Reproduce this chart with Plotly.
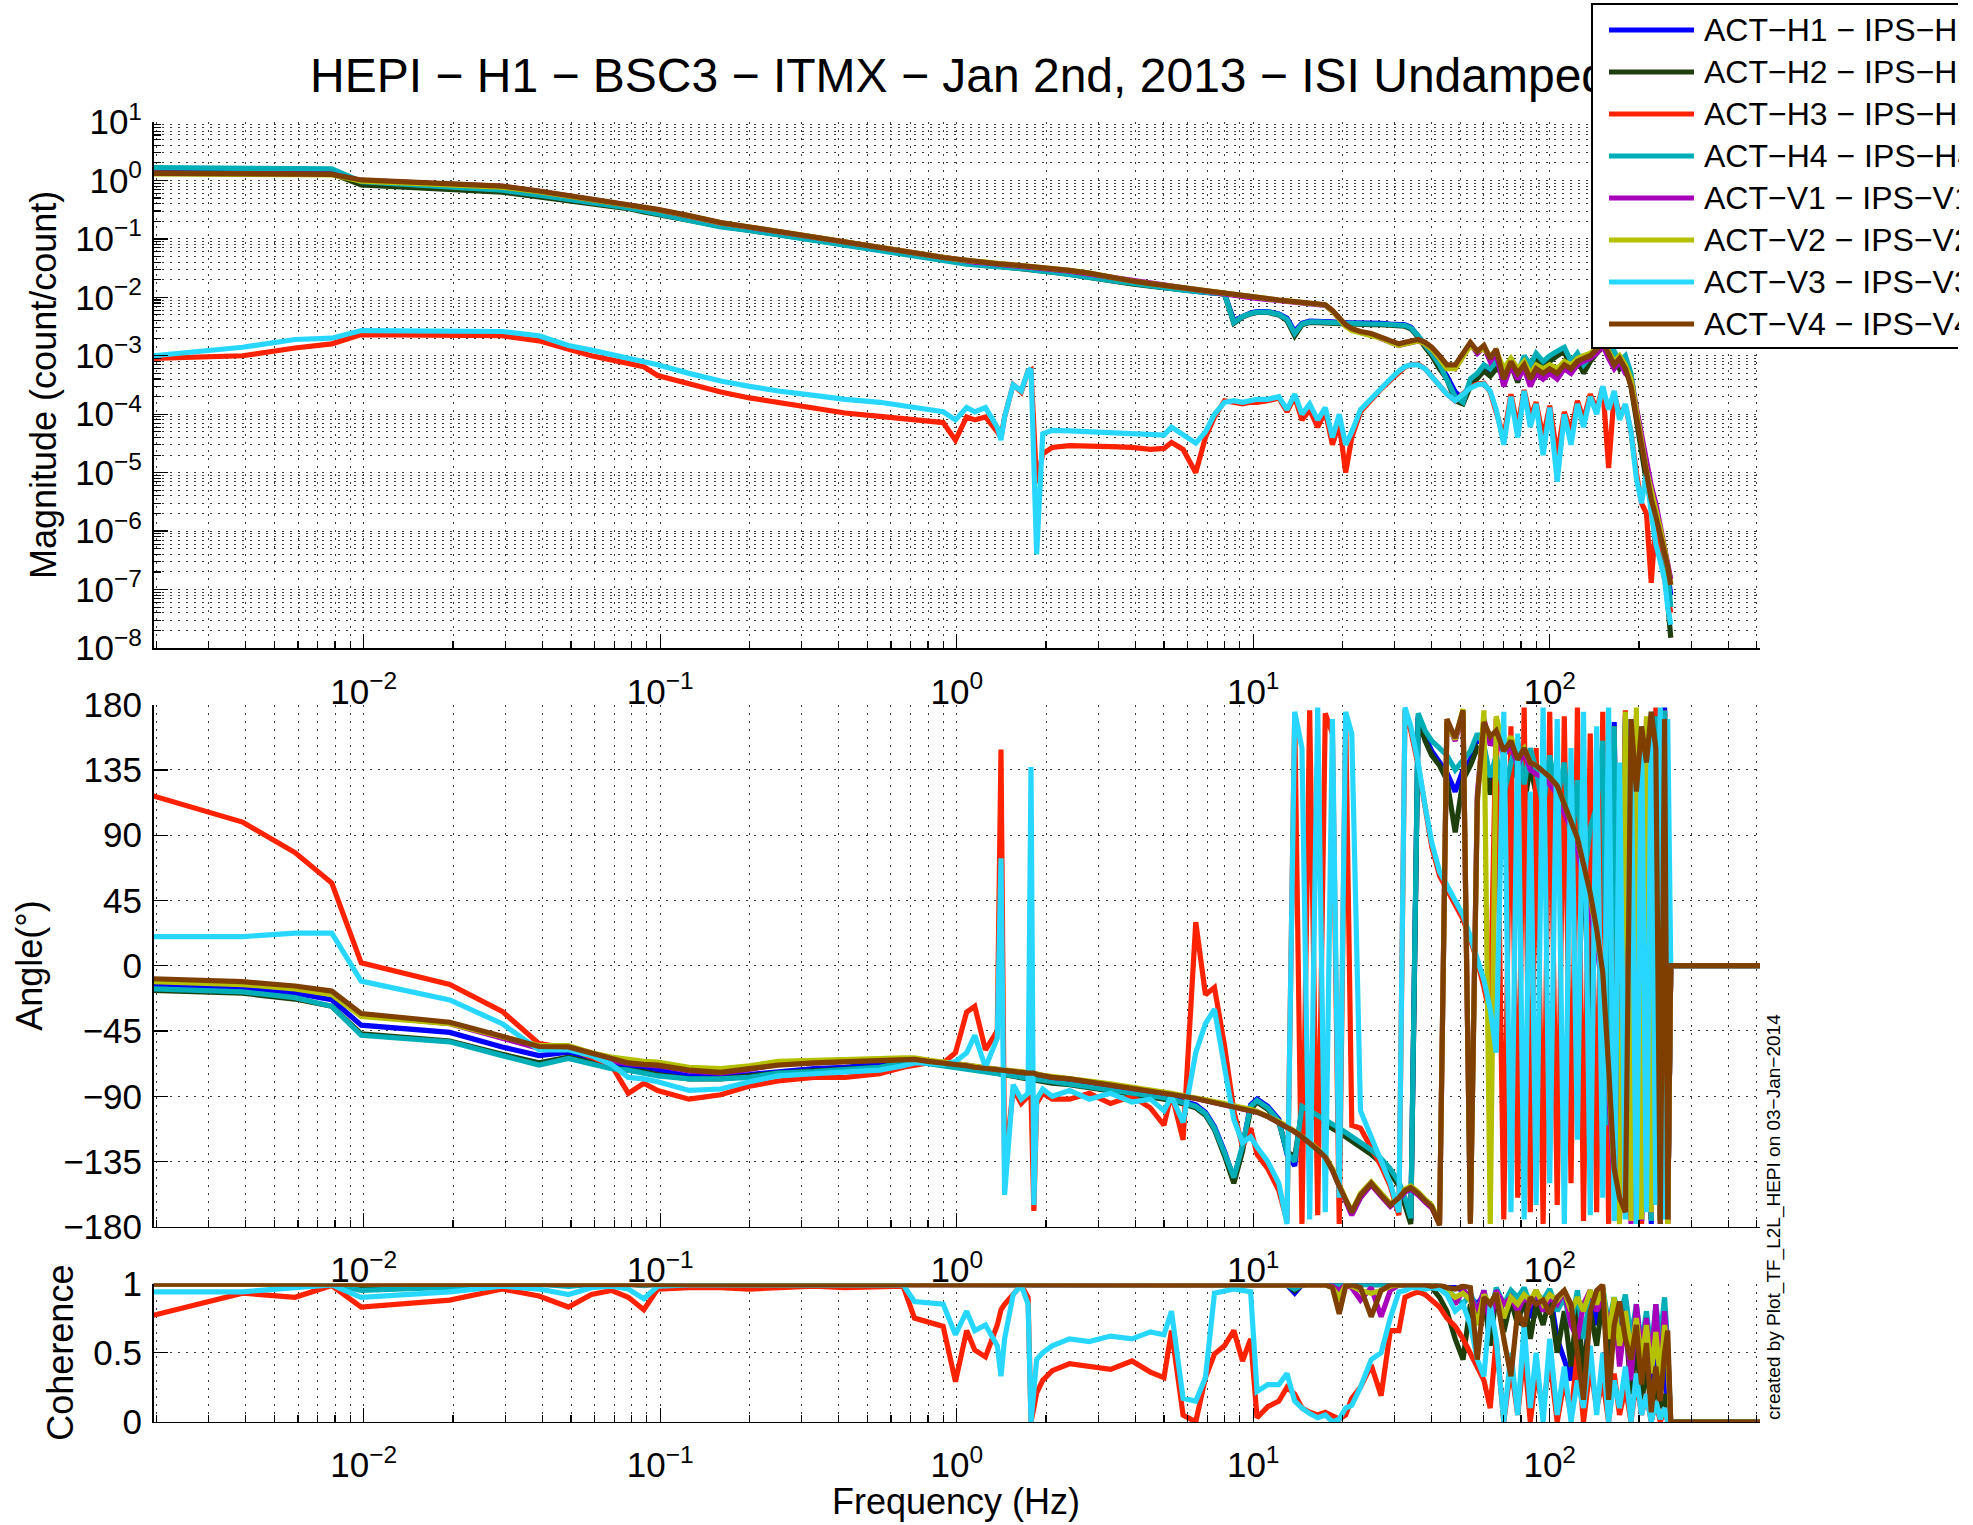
import math
import plotly.graph_objects as go

# ---------------- data ----------------
FREQ = [
    0.00195, 0.0039, 0.00586, 0.0078, 0.0098, 0.0195, 0.0293, 0.039, 0.049, 0.0586,
    0.0684, 0.078, 0.088, 0.098, 0.125, 0.16, 0.2, 0.25, 0.33, 0.42,
    0.55, 0.66, 0.72, 0.8, 0.9, 0.99, 1.08, 1.15, 1.25, 1.37,
    1.41, 1.45, 1.55, 1.65, 1.74, 1.78, 1.82, 1.86, 1.95, 2.1,
    2.4, 2.8, 3.3, 3.9, 4.5, 5.0, 5.3, 5.8, 6.4, 6.9,
    7.4, 8.0, 8.6, 9.2, 9.8, 10.3, 11.2, 12.2, 13.0, 13.8,
    14.6, 15.5, 16.5, 17.5, 18.5, 19.5, 20.5, 21.5, 23, 25,
    27, 29, 31, 32.5, 34, 36, 38, 40, 42.5, 45,
    48, 51, 54, 57, 60, 63, 66, 70, 74, 78,
    82, 86, 90, 95, 100, 106, 112, 118, 124, 130,
    137, 144, 151, 158, 165, 172, 180, 188, 196, 204,
    212, 220, 228, 236, 244, 250, 256, 300, 400, 512,
]

SERIES_NAMES = [
    "ACT\u2212H1 \u2212 IPS\u2212H1", "ACT\u2212H2 \u2212 IPS\u2212H2",
    "ACT\u2212H3 \u2212 IPS\u2212H3", "ACT\u2212H4 \u2212 IPS\u2212H4",
    "ACT\u2212V1 \u2212 IPS\u2212V1", "ACT\u2212V2 \u2212 IPS\u2212V2",
    "ACT\u2212V3 \u2212 IPS\u2212V3", "ACT\u2212V4 \u2212 IPS\u2212V4",
]
SERIES_COLORS = ["#0000FF", "#1E3F0C", "#FF2200", "#00AEB8",
                 "#A800BA", "#B4C000", "#28D7FF", "#7F3F00"]

# ---- magnitude (count/count) ----
MAG_H1 = [
    1.38, 1.37, 1.35, 1.33, 0.92, 0.80, 0.70, 0.57, 0.49, 0.43,
    0.39, 0.35, 0.31, 0.28, 0.22, 0.17, 0.145, 0.12, 0.095, 0.080,
    0.065, 0.057, 0.052, 0.048, 0.044, 0.041, 0.039, 0.037, 0.036, 0.035,
    0.034, 0.034, 0.033, 0.032, 0.031, 0.031, 0.030, 0.030, 0.029, 0.028,
    0.026, 0.023, 0.020, 0.0175, 0.0158, 0.0148, 0.0142, 0.0134, 0.0127, 0.0122,
    0.0119, 0.0116, 0.0040, 0.0048, 0.0054, 0.0057, 0.0057, 0.0052, 0.0044, 0.0026,
    0.0036, 0.0039, 0.0039, 0.0038, 0.0038, 0.0037, 0.0037, 0.0037, 0.0036, 0.0036,
    0.0036, 0.0035, 0.0035, 0.0034, 0.0031, 0.0022, 0.0015, 0.0011, 0.0007, 0.00045,
    0.00024, 0.00018, 0.00035, 0.00045, 0.0006, 0.0005, 0.0007, 0.0006, 0.0008, 0.0004,
    0.0009, 0.0006, 0.0010, 0.0007, 0.0009, 0.0011, 0.0013, 0.0007, 0.0010, 0.0006,
    0.0009, 0.0012, 0.0015, 0.0018, 0.0011, 0.0007, 0.0009, 0.0004, 0.0001, 0.00003,
    9e-6, 4e-6, 2e-6, 9e-7, 4e-7, 2e-7, 8e-8, None, None, None,
]
MAG_H2 = [
    1.36, 1.35, 1.33, 1.31, 0.84, 0.72, 0.63, 0.52, 0.45, 0.40,
    0.36, 0.33, 0.29, 0.26, 0.21, 0.165, 0.14, 0.118, 0.093, 0.078,
    0.064, 0.056, 0.051, 0.047, 0.043, 0.040, 0.038, 0.036, 0.035, 0.034,
    0.033, 0.033, 0.032, 0.031, 0.030, 0.030, 0.029, 0.029, 0.028, 0.027,
    0.025, 0.022, 0.019, 0.017, 0.0155, 0.0145, 0.014, 0.0132, 0.0125, 0.012,
    0.0117, 0.0113, 0.0036, 0.0046, 0.0052, 0.0055, 0.0055, 0.0050, 0.0040, 0.0022,
    0.0034, 0.0037, 0.0037, 0.0036, 0.0036, 0.0035, 0.0035, 0.0035, 0.0034, 0.0034,
    0.0034, 0.0033, 0.0033, 0.0032, 0.0029, 0.0021, 0.0014, 0.0010, 0.0006, 0.0004,
    0.00017, 0.00015, 0.0003, 0.0004, 0.00055, 0.00045, 0.0006, 0.0005, 0.0007, 0.00035,
    0.0008, 0.0005, 0.0009, 0.0006, 0.0008, 0.0010, 0.0012, 0.0006, 0.0009, 0.0005,
    0.0008, 0.0011, 0.0014, 0.0016, 0.0010, 0.0006, 0.0008, 0.0003, 0.00008, 0.00002,
    7e-6, 3e-6, 1.2e-6, 5e-7, 2e-7, 6e-8, 1.5e-8, None, None, None,
]
MAG_H3 = [
    9e-4, 1.0e-3, 1.36e-3, 1.6e-3, 2.3e-3, 2.25e-3, 2.2e-3, 1.8e-3, 1.3e-3, 1.0e-3,
    8.5e-4, 7.5e-4, 6.5e-4, 4.6e-4, 3.3e-4, 2.4e-4, 1.9e-4, 1.6e-4, 1.3e-4, 1.05e-4,
    9.2e-5, 8.5e-5, 8.3e-5, 7.8e-5, 7.2e-5, 3.6e-5, 9e-5, 8e-5, 9e-5, 5e-5,
    4e-5, 9e-5, 3.2e-4, 2.4e-4, 5.5e-4, 5.8e-4, 6e-5, 6.6e-6, 2.1e-5, 2.7e-5,
    2.9e-5, 2.9e-5, 2.8e-5, 2.7e-5, 2.5e-5, 2.6e-5, 3.3e-5, 2.5e-5, 1.0e-5, 4e-5,
    9e-5, 1.7e-4, 1.6e-4, 1.5e-4, 1.6e-4, 1.6e-4, 1.7e-4, 1.9e-4, 1.1e-4, 2.0e-4,
    8e-5, 1.2e-4, 6e-5, 1.1e-4, 3e-5, 7e-5, 1e-5, 4e-5, 1.1e-4, 1.8e-4,
    2.7e-4, 3.8e-4, 5.3e-4, 6.4e-4, 7e-4, 7.2e-4, 6e-4, 4.4e-4, 3e-4, 2.2e-4,
    1.7e-4, 2.2e-4, 2.9e-4, 3.3e-4, 3.4e-4, 2.4e-4, 1.1e-4, 4e-5, 2.2e-4, 6e-5,
    2.6e-4, 9e-5, 1.6e-4, 4e-5, 1.4e-4, 2e-5, 1.1e-4, 5e-5, 1.7e-4, 8e-5,
    2.2e-4, 1.2e-4, 3e-4, 1.2e-5, 2.2e-4, 1e-4, 1.4e-4, 5e-5, 1e-5, 3e-6,
    2e-6, 1.3e-7, 1.5e-6, 4e-7, 1.5e-7, 8e-8, 4e-8, None, None, None,
]
MAG_H4 = [
    1.66, 1.64, 1.61, 1.58, 0.95, 0.78, 0.68, 0.56, 0.48, 0.42,
    0.38, 0.34, 0.30, 0.27, 0.21, 0.16, 0.14, 0.117, 0.092, 0.077,
    0.063, 0.055, 0.050, 0.046, 0.042, 0.039, 0.037, 0.036, 0.035, 0.034,
    0.033, 0.033, 0.032, 0.031, 0.030, 0.030, 0.029, 0.029, 0.028, 0.027,
    0.025, 0.022, 0.0195, 0.0172, 0.0156, 0.0146, 0.014, 0.0133, 0.0126, 0.0121,
    0.0118, 0.0114, 0.0037, 0.0047, 0.0053, 0.0056, 0.0056, 0.0051, 0.0042, 0.0024,
    0.0035, 0.0038, 0.0038, 0.0037, 0.0037, 0.0036, 0.0036, 0.0036, 0.0035, 0.0035,
    0.0035, 0.0034, 0.0034, 0.0033, 0.0030, 0.0022, 0.0015, 0.0011, 0.0007, 0.0004,
    0.0002, 0.00016, 0.0004, 0.0005, 0.0007, 0.0006, 0.0008, 0.0005, 0.0009, 0.0005,
    0.0010, 0.0007, 0.0011, 0.0008, 0.0010, 0.0012, 0.0014, 0.0008, 0.0011, 0.0007,
    0.0010, 0.0013, 0.0016, 0.0019, 0.0012, 0.0008, 0.0010, 0.0005, 0.00012, 0.00004,
    1.2e-5, 5e-6, 2.5e-6, 1e-6, 5e-7, 2e-7, 5e-8, None, None, None,
]
MAG_V1 = [
    1.33, 1.32, 1.30, 1.28, 1.0, 0.87, 0.79, 0.65, 0.54, 0.47,
    0.43, 0.38, 0.345, 0.315, 0.245, 0.187, 0.158, 0.133, 0.104, 0.087,
    0.071, 0.062, 0.057, 0.052, 0.047, 0.044, 0.042, 0.040, 0.039, 0.037,
    0.036, 0.036, 0.035, 0.034, 0.033, 0.033, 0.032, 0.032, 0.031, 0.030,
    0.028, 0.025, 0.0215, 0.0186, 0.0168, 0.0157, 0.015, 0.0141, 0.0132, 0.0126,
    0.012, 0.0114, 0.0108, 0.0103, 0.0099, 0.0096, 0.0092, 0.0088, 0.0085, 0.0083,
    0.0081, 0.0079, 0.0077, 0.0073, 0.0058, 0.0044, 0.0033, 0.0028, 0.0025, 0.0023,
    0.0020, 0.0017, 0.0015, 0.0016, 0.0017, 0.0018, 0.0016, 0.0013, 0.0009, 0.0007,
    0.0006, 0.0010, 0.0016, 0.0011, 0.0014, 0.0008, 0.0011, 0.0003, 0.0007, 0.0004,
    0.0006, 0.0003, 0.0005, 0.0004, 0.0005, 0.0004, 0.0006, 0.0005, 0.0007, 0.0008,
    0.0009, 0.0011, 0.0015, 0.0009, 0.0006, 0.0008, 0.0005, 0.0004, 0.00013, 0.00005,
    1.5e-5, 6e-6, 3e-6, 1.3e-6, 6e-7, 3e-7, 1.5e-7, None, None, None,
]
MAG_V2 = [
    1.30, 1.29, 1.27, 1.25, 0.97, 0.85, 0.77, 0.64, 0.535, 0.465,
    0.43, 0.385, 0.345, 0.315, 0.248, 0.188, 0.16, 0.134, 0.104, 0.087,
    0.072, 0.063, 0.058, 0.053, 0.048, 0.045, 0.043, 0.041, 0.040, 0.038,
    0.037, 0.037, 0.036, 0.035, 0.034, 0.034, 0.033, 0.033, 0.032, 0.031,
    0.029, 0.026, 0.022, 0.019, 0.0172, 0.016, 0.0152, 0.0143, 0.0134, 0.0128,
    0.0122, 0.0116, 0.0110, 0.0105, 0.0101, 0.0098, 0.0094, 0.0090, 0.0087, 0.0085,
    0.0083, 0.0081, 0.0079, 0.0074, 0.0058, 0.0043, 0.0032, 0.0027, 0.0025, 0.0023,
    0.0020, 0.0017, 0.0015, 0.0016, 0.0017, 0.0018, 0.0016, 0.0013, 0.0009, 0.0006,
    0.0006, 0.0010, 0.0015, 0.0012, 0.0013, 0.0010, 0.0012, 0.0006, 0.0009, 0.0006,
    0.0008, 0.0005, 0.0007, 0.0006, 0.0007, 0.0006, 0.0008, 0.0007, 0.0009, 0.0010,
    0.0011, 0.0014, 0.0016, 0.0012, 0.0008, 0.0010, 0.0007, 0.0004, 0.00011, 0.00004,
    1.1e-5, 5e-6, 2.5e-6, 1.1e-6, 5e-7, 2.5e-7, 1.2e-7, None, None, None,
]
MAG_V3 = [
    1.0e-3, 1.4e-3, 1.9e-3, 2.0e-3, 2.7e-3, 2.65e-3, 2.6e-3, 2.2e-3, 1.5e-3, 1.25e-3,
    1.05e-3, 9e-4, 8e-4, 7e-4, 5e-4, 3.7e-4, 3.0e-4, 2.5e-4, 2.1e-4, 1.8e-4,
    1.6e-4, 1.4e-4, 1.35e-4, 1.25e-4, 1.1e-4, 8e-5, 1.3e-4, 1.1e-4, 1.3e-4, 6e-5,
    3.6e-5, 9e-5, 3.2e-4, 2.5e-4, 5.5e-4, 6e-4, 2e-5, 4e-7, 4.6e-5, 5.3e-5,
    5.2e-5, 5e-5, 4.8e-5, 4.6e-5, 4.3e-5, 4.4e-5, 6e-5, 4.5e-5, 3.2e-5, 5e-5,
    1.0e-4, 1.6e-4, 1.7e-4, 1.6e-4, 1.7e-4, 1.8e-4, 1.8e-4, 2.0e-4, 1.2e-4, 2.2e-4,
    1.0e-4, 1.5e-4, 8e-5, 1.3e-4, 4e-5, 1e-4, 3e-5, 5e-5, 1.2e-4, 1.9e-4,
    2.8e-4, 4e-4, 5.5e-4, 6.5e-4, 7e-4, 7e-4, 6e-4, 4.5e-4, 3e-4, 2.2e-4,
    1.7e-4, 2.2e-4, 2.8e-4, 3.2e-4, 3.3e-4, 2.5e-4, 1.2e-4, 3e-5, 2e-4, 4e-5,
    2.5e-4, 6e-5, 1.5e-4, 2e-5, 1.3e-4, 7e-6, 1e-4, 3e-5, 1.5e-4, 6e-5,
    2e-4, 1e-4, 3e-4, 1.2e-4, 2.5e-4, 8e-5, 1.5e-4, 5e-5, 8e-6, 3e-6,
    1e-5, 2e-6, 6e-7, 3e-7, 1.5e-7, 5e-8, 2.5e-8, None, None, None,
]
MAG_V4 = [
    1.32, 1.31, 1.29, 1.27, 1.02, 0.88, 0.80, 0.66, 0.55, 0.48,
    0.44, 0.39, 0.35, 0.32, 0.25, 0.19, 0.16, 0.135, 0.105, 0.088,
    0.072, 0.063, 0.058, 0.053, 0.048, 0.045, 0.043, 0.041, 0.040, 0.038,
    0.037, 0.037, 0.036, 0.035, 0.034, 0.034, 0.033, 0.033, 0.032, 0.031,
    0.029, 0.026, 0.022, 0.019, 0.0172, 0.016, 0.0152, 0.0143, 0.0134, 0.0128,
    0.0122, 0.0116, 0.0110, 0.0105, 0.0101, 0.0098, 0.0094, 0.0090, 0.0087, 0.0085,
    0.0083, 0.0081, 0.0079, 0.0075, 0.0060, 0.0045, 0.0034, 0.0029, 0.0026, 0.0024,
    0.0021, 0.0018, 0.0016, 0.0017, 0.0018, 0.0019, 0.0017, 0.0014, 0.0010, 0.0007,
    0.0007, 0.0011, 0.0017, 0.0012, 0.0015, 0.0009, 0.0013, 0.0004, 0.0008, 0.0005,
    0.0007, 0.0004, 0.0006, 0.0005, 0.0006, 0.0005, 0.0007, 0.0006, 0.0008, 0.0009,
    0.0010, 0.0013, 0.0017, 0.0011, 0.0007, 0.0009, 0.0006, 0.0003, 0.00009, 0.00003,
    8e-6, 3.5e-6, 1.8e-6, 9e-7, 4.5e-7, 2.5e-7, 1.2e-7, None, None, None,
]

# ---- phase (degrees) ----
PH_H1 = [
    -13, -15, -19, -23.5, -41, -46, -56, -62, -59.6, -64,
    -67, -70, -71, -72, -76, -76, -75, -73, -71, -70,
    -68, -66, -65.5, -66, -67, -68, -69, -70, -71, -72,
    -72.5, -73, -74, -75, -75.5, -76, -76, -77, -78, -79,
    -80, -82, -84, -86, -88, -90, -91, -93, -96, -101,
    -111, -128, -147, -125, -96, -92, -97, -106, -130, -138,
    -98, -101, -104, -107, -110, -113, -116, -119, -123, -128,
    -134, -141, -150, -162, -176, 172, 158, 148, 140, 133,
    120, 135, 142, 158, 150, 128, 140, 112, 135, 150,
    118, 145, 128, 102, 140, 110, 135, 62, 122, 80,
    -30, 105, 150, -115, 168, -150, 172, -168, 170, -176,
    160, -178, 174, -172, 178, -176, 0, 0, 0, 0,
]
PH_H2 = [
    -17, -19, -23, -28, -47, -52, -61, -67, -63, -67,
    -70, -72, -73, -75, -78, -78, -76, -74, -72.5, -71.5,
    -70, -67, -66, -67, -68, -69.5, -70.5, -71.5, -72.5, -73.5,
    -74, -75, -76, -77, -78, -78, -78.5, -79, -80, -81,
    -82, -84, -86, -88, -90, -92, -93, -95, -98, -103,
    -113, -131, -150, -128, -99, -94, -99, -108, -128, -132,
    -100, -103, -106, -109, -112, -115, -118, -121, -125, -130,
    -136, -143, -152, -165, -178, 170, 155, 145, 138, 128,
    92, 128, 138, 150, 145, 118, 135, 105, 128, 140,
    110, 138, 120, 95, 132, 100, 128, 55, 112, 70,
    -47, 95, 140, -125, 160, -160, 165, -172, 165, -178,
    150, -175, 170, -176, 175, -178, 0, 0, 0, 0,
]
PH_H3 = [
    117, 99, 78, 57, 2, -13, -31.5, -53.7, -57, -63,
    -68.5, -88, -81, -86, -92, -89, -83, -79.5, -77, -77,
    -74.5, -70, -68.5, -67, -67, -60, -32, -28, -58, -45,
    149, -140, -85, -95, -90, -89, -169, -95, -88, -92,
    -92, -88, -95, -90, -98, -110, -88, -120, 30, -20,
    -15, -55, -100, -125, -112, -130, -140, -155, -176, 172,
    -178, 176, -172, 174, 160, -178, 170, -110, -112, -125,
    -138, -152, -172, 176, 162, 138, 108, 82, 62, 52,
    42, 32, 18, 3, -15, -35, 170, -175, 165, -160,
    178, -170, 150, -178, 175, -165, 172, -150, 178, -176,
    160, -170, 175, -178, 165, -172, 176, -168, 172, -178,
    170, -175, 178, -170, 176, -178, 0, 0, 0, 0,
]
PH_H4 = [
    -16, -18, -22, -28, -48, -52.5, -62, -68.5, -64, -68,
    -71, -72, -74, -76, -78, -78, -77, -74, -73, -72,
    -70, -67, -66, -67.5, -69, -70, -71, -72, -73, -74,
    -74.5, -75, -76, -76.5, -77, -77, -77.5, -78, -79, -80,
    -81, -83, -85, -87, -89, -91, -92, -94, -97, -102,
    -112, -129, -146, -124, -97, -93, -98, -107, -129, -135,
    -97, -100, -103, -106, -109, -112, -115, -118, -122, -127,
    -133, -140, -149, -160, -174, 174, 162, 155, 150, 145,
    135, 142, 148, 160, 152, 130, 145, 118, 140, 155,
    125, 150, 135, 108, 145, 115, 140, 80, 128, 57,
    95, 110, 155, -110, 165, -145, 170, -165, 168, -172,
    165, -176, 172, -170, 176, -174, 0, 0, 0, 0,
]
PH_V1 = [
    -10, -12, -15, -18.5, -34, -40, -50, -57, -57, -62,
    -65.5, -67.5, -68.5, -69, -72.5, -74, -71.5, -68, -67, -66,
    -65.5, -64.5, -64, -65.5, -66.5, -68, -68.5, -69.5, -70.5, -71.5,
    -72, -72.5, -73, -73.5, -74, -74, -74.5, -75, -76, -77,
    -78, -80, -82, -84, -86, -87.5, -88.5, -90, -91.5, -93,
    -94, -95.5, -97, -98, -99.5, -101, -104, -108, -111, -114.5,
    -118, -122, -127, -132, -141, -152, -163, -172, -160, -151,
    -159, -166, -161, -156, -154, -158, -163, -167, -178, 168,
    155, 174, -176, 118, 170, 152, 158, 145, 152, 138,
    148, 135, 132, 130, 125, 118, 105, 95, 80, 60,
    40, 15, -20, -85, -150, -175, 160, -178, 110, -176,
    150, -170, 120, -178, 165, -176, 0, 0, 0, 0,
]
PH_V2 = [
    -11, -13, -16, -20, -35, -40, -49, -55, -55, -60,
    -63, -65, -66, -66.5, -70, -71, -69, -66, -65, -64.5,
    -64, -63.5, -63.5, -65, -66, -67.5, -68.5, -69.5, -70.5, -71.5,
    -71.5, -72, -72.5, -73, -73.5, -73.5, -74, -74.5, -75.5, -76.5,
    -77.5, -79.5, -81.5, -83.5, -85.5, -87, -88, -89.5, -91, -92.5,
    -93.5, -95, -96.5, -97.5, -99, -100.5, -103.5, -107.5, -110.5, -114,
    -117.5, -121.5, -126.5, -131.5, -140, -151, -161, -169, -157, -149,
    -157, -164, -159, -154, -152, -156, -161, -165, -177, 167,
    156, 177, -177, 112, 176, -178, 172, 150, 158, 145,
    150, 140, 138, 134, 130, 124, 112, 100, 88, 70,
    48, 22, -8, -75, -142, -178, 175, -176, 178, -175,
    172, -170, 150, -176, 170, -178, 0, 0, 0, 0,
]
PH_V3 = [
    20, 20, 22.5, 22.5, -10.6, -23.6, -40, -58, -58, -62,
    -68, -77, -78, -80, -86, -85, -80, -76, -74.5, -73,
    -72, -69, -67, -67, -68, -66, -60, -48, -70, -50,
    74, -158, -82, -92, -88, 137, -165, -92, -85, -90,
    -86, -92, -88, -94, -92, -100, -90, -108, -60, -40,
    -30, -70, -106, -122, -118, -125, -135, -150, -178, 175,
    150, -175, 178, -170, 170, -160, 175, 160, -100, -118,
    -135, -150, -170, 178, 165, 140, 110, 85, 65, 55,
    45, 35, 20, 5, -10, -30, -60, 175, -170, 160,
    -175, 120, -165, 178, -150, 170, -178, 150, -120, 175,
    -172, 165, -160, 178, -176, 140, -175, 170, -178, 165,
    -170, 175, -165, 178, -175, 170, 0, 0, 0, 0,
]
PH_V4 = [
    -9, -11, -14, -17.5, -33, -39, -48.7, -55.7, -56, -60,
    -64, -67, -68, -68.5, -72, -73.5, -71, -68.5, -67, -66.5,
    -66, -65, -64.6, -66, -67, -68.5, -69, -70, -71, -72,
    -72, -72.5, -73, -73.5, -74, -74, -74, -75, -76, -77,
    -78, -80, -82, -84, -86, -87.5, -88.5, -90, -91.5, -93,
    -94, -95.5, -97, -98, -99.5, -101, -104, -108, -111, -114.5,
    -118, -122, -127, -132, -141, -152, -162, -170, -158, -150,
    -158, -165, -160, -155, -153, -157, -162, -166, -179, 170,
    157, 176, -178, 115, 168, 158, 162, 148, 155, 142,
    150, 140, 138, 134, 130, 124, 112, 100, 88, 70,
    50, 25, -5, -70, -140, -160, -170, 170, 120, 165,
    140, 175, 150, -178, 170, -175, 0, 0, 0, 0,
]

# ---- coherence ----
COH_H1 = [
    0.995, 0.995, 0.995, 0.995, 0.98, 0.99, 0.995, 0.995, 0.99, 0.995,
    0.995, 0.995, 0.99, 0.995, 0.995, 0.995, 0.995, 0.995, 0.995, 0.995,
    0.995, 0.995, 0.995, 0.995, 0.995, 0.995, 0.995, 0.995, 0.995, 0.995,
    0.995, 0.995, 0.995, 0.995, 0.995, 0.99, 0.995, 0.995, 0.995, 0.995,
    0.995, 0.995, 0.995, 0.995, 0.995, 0.995, 0.995, 0.995, 0.995, 0.995,
    0.995, 0.995, 0.995, 0.995, 0.995, 0.995, 0.995, 0.995, 0.99, 0.93,
    0.99, 0.995, 0.995, 0.99, 0.99, 0.99, 0.995, 0.99, 0.99, 0.99,
    0.99, 0.99, 0.99, 0.99, 0.99, 0.99, 0.99, 0.99, 0.98, 0.97,
    0.97, 0.95, 0.9, 0.85, 0.92, 0.8, 0.95, 0.7, 0.9, 0.85,
    0.95, 0.75, 0.9, 0.8, 0.95, 0.6, 0.45, 0.3, 0.8, 0.25,
    0.9, 0.7, 0.95, 0.5, 0.9, 0.6, 0.85, 0.3, 0.7, 0.2,
    0.6, 0.1, 0.5, 0.2, 0.45, 0.1, 0.0, 0.0, 0.0, 0.0,
]
COH_H2 = [
    0.995, 0.995, 0.995, 0.995, 0.975, 0.99, 0.995, 0.995, 0.99, 0.995,
    0.995, 0.995, 0.99, 0.995, 0.995, 0.995, 0.995, 0.995, 0.995, 0.995,
    0.995, 0.995, 0.995, 0.995, 0.995, 0.995, 0.995, 0.995, 0.995, 0.995,
    0.995, 0.995, 0.995, 0.995, 0.995, 0.99, 0.995, 0.995, 0.995, 0.995,
    0.995, 0.995, 0.995, 0.995, 0.995, 0.995, 0.995, 0.995, 0.995, 0.995,
    0.995, 0.995, 0.995, 0.995, 0.995, 0.995, 0.995, 0.995, 0.99, 0.95,
    0.99, 0.995, 0.995, 0.99, 0.99, 0.99, 0.995, 0.99, 0.99, 0.99,
    0.99, 0.99, 0.99, 0.99, 0.99, 0.99, 0.99, 0.97, 0.9, 0.8,
    0.6, 0.45, 0.85, 0.75, 0.9, 0.55, 0.92, 0.65, 0.88, 0.7,
    0.9, 0.6, 0.85, 0.7, 0.9, 0.5, 0.8, 0.4, 0.85, 0.35,
    0.8, 0.55, 0.9, 0.4, 0.8, 0.5, 0.75, 0.2, 0.6, 0.1,
    0.45, 0.05, 0.3, 0.1, 0.2, 0.05, 0.0, 0.0, 0.0, 0.0,
]
COH_H3 = [
    0.77, 0.93, 0.90, 0.985, 0.83, 0.88, 0.96, 0.91, 0.83, 0.92,
    0.95, 0.9, 0.81, 0.96, 0.97, 0.97, 0.96, 0.97, 0.98, 0.97,
    0.98, 0.98, 0.75, 0.72, 0.69, 0.29, 0.66, 0.52, 0.47, 0.7,
    0.81, 0.85, 0.92, 0.99, 0.9, 0.0, 0.1, 0.21, 0.3, 0.37,
    0.42, 0.4, 0.38, 0.44, 0.36, 0.32, 0.66, 0.05, 0.0, 0.32,
    0.49, 0.55, 0.66, 0.44, 0.6, 0.03, 0.11, 0.15, 0.25, 0.2,
    0.1, 0.07, 0.05, 0.07, 0.04, 0.02, 0.05, 0.17, 0.25, 0.41,
    0.19, 0.66, 0.66, 0.9, 0.92, 0.94, 0.92, 0.88, 0.83, 0.75,
    0.69, 0.6, 0.5, 0.4, 0.3, 0.1, 0.6, 0.0, 0.4, 0.05,
    0.5, 0.0, 0.35, 0.1, 0.45, 0.0, 0.3, 0.05, 0.5, 0.0,
    0.4, 0.1, 0.3, 0.0, 0.35, 0.05, 0.25, 0.0, 0.3, 0.05,
    0.2, 0.0, 0.15, 0.0, 0.1, 0.0, 0.0, 0.0, 0.0, 0.0,
]
COH_H4 = [
    0.995, 0.995, 0.995, 0.995, 0.95, 0.97, 0.99, 0.995, 0.98, 0.995,
    0.995, 0.995, 0.985, 0.995, 0.995, 0.995, 0.995, 0.995, 0.995, 0.995,
    0.995, 0.995, 0.995, 0.995, 0.995, 0.995, 0.995, 0.995, 0.995, 0.995,
    0.995, 0.995, 0.995, 0.995, 0.995, 0.99, 0.995, 0.995, 0.995, 0.995,
    0.995, 0.995, 0.995, 0.995, 0.995, 0.995, 0.995, 0.995, 0.995, 0.995,
    0.995, 0.995, 0.995, 0.995, 0.995, 0.995, 0.995, 0.995, 0.99, 0.96,
    0.99, 0.995, 0.995, 0.99, 0.99, 0.99, 0.995, 0.99, 0.99, 0.99,
    0.99, 0.99, 0.99, 0.99, 0.99, 0.99, 0.99, 0.99, 0.98, 0.96,
    0.9, 0.85, 0.93, 0.8, 0.95, 0.75, 0.97, 0.85, 0.95, 0.9,
    0.97, 0.85, 0.93, 0.88, 0.96, 0.8, 0.9, 0.7, 0.95, 0.6,
    0.92, 0.85, 0.97, 0.7, 0.9, 0.75, 0.92, 0.6, 0.85, 0.55,
    0.8, 0.5, 0.85, 0.6, 0.9, 0.55, 0.0, 0.0, 0.0, 0.0,
]
COH_V1 = [
    0.995, 0.995, 0.995, 0.995, 0.99, 0.995, 0.995, 0.995, 0.99, 0.995,
    0.995, 0.995, 0.99, 0.995, 0.995, 0.995, 0.995, 0.995, 0.995, 0.995,
    0.995, 0.995, 0.995, 0.995, 0.995, 0.995, 0.995, 0.995, 0.995, 0.995,
    0.995, 0.995, 0.995, 0.995, 0.995, 0.99, 0.995, 0.995, 0.995, 0.995,
    0.995, 0.995, 0.995, 0.995, 0.995, 0.995, 0.995, 0.995, 0.995, 0.995,
    0.995, 0.995, 0.995, 0.995, 0.995, 0.995, 0.995, 0.995, 0.995, 0.99,
    0.99, 0.99, 0.99, 0.99, 0.98, 0.95, 0.99, 0.97, 0.88, 0.97,
    0.76, 0.95, 0.99, 0.99, 0.99, 0.99, 0.99, 0.98, 0.97, 0.96,
    0.85, 0.95, 0.9, 0.8, 0.95, 0.7, 0.95, 0.85, 0.9, 0.8,
    0.9, 0.85, 0.95, 0.8, 0.9, 0.85, 0.95, 0.7, 0.6, 0.85,
    0.95, 0.8, 0.9, 0.7, 0.85, 0.4, 0.75, 0.3, 0.85, 0.5,
    0.75, 0.4, 0.85, 0.3, 0.8, 0.5, 0.0, 0.0, 0.0, 0.0,
]
COH_V2 = [
    0.995, 0.995, 0.995, 0.995, 0.99, 0.995, 0.995, 0.995, 0.99, 0.995,
    0.995, 0.995, 0.99, 0.995, 0.995, 0.995, 0.995, 0.995, 0.995, 0.995,
    0.995, 0.995, 0.995, 0.995, 0.995, 0.995, 0.995, 0.995, 0.995, 0.995,
    0.995, 0.995, 0.995, 0.995, 0.995, 0.99, 0.995, 0.995, 0.995, 0.995,
    0.995, 0.995, 0.995, 0.995, 0.995, 0.995, 0.995, 0.995, 0.995, 0.995,
    0.995, 0.995, 0.995, 0.995, 0.995, 0.995, 0.995, 0.995, 0.995, 0.99,
    0.99, 0.99, 0.99, 0.99, 0.97, 0.9, 0.99, 0.98, 0.95, 0.93,
    0.95, 0.98, 0.99, 0.99, 0.99, 0.99, 0.98, 0.99, 0.97, 0.95,
    0.9, 0.93, 0.88, 0.7, 0.92, 0.85, 0.93, 0.75, 0.9, 0.85,
    0.92, 0.88, 0.95, 0.85, 0.92, 0.88, 0.95, 0.8, 0.9, 0.8,
    0.95, 0.85, 0.97, 0.6, 0.9, 0.55, 0.8, 0.5, 0.75, 0.45,
    0.7, 0.35, 0.65, 0.3, 0.7, 0.5, 0.0, 0.0, 0.0, 0.0,
]
COH_V3 = [
    0.94, 0.94, 0.97, 0.99, 0.90, 0.94, 0.98, 0.96, 0.92, 0.97,
    0.98, 0.96, 0.89, 0.98, 0.99, 0.99, 0.99, 0.99, 0.99, 0.99,
    0.99, 0.99, 0.87, 0.86, 0.85, 0.63, 0.80, 0.66, 0.70, 0.55,
    0.33, 0.6, 0.92, 0.99, 0.85, 0.0, 0.2, 0.45, 0.5, 0.55,
    0.6, 0.58, 0.62, 0.6, 0.65, 0.63, 0.8, 0.17, 0.15, 0.32,
    0.93, 0.95, 0.96, 0.95, 0.94, 0.22, 0.27, 0.27, 0.35, 0.15,
    0.1, 0.06, 0.03, 0.05, 0.0, 0.02, 0.1, 0.12, 0.25, 0.45,
    0.5, 0.75, 0.94, 0.95, 0.97, 0.97, 0.96, 0.97, 0.96, 0.92,
    0.8, 0.85, 0.7, 0.45, 0.33, 0.85, 0.6, 0.0, 0.5, 0.05,
    0.7, 0.1, 0.5, 0.0, 0.6, 0.05, 0.4, 0.0, 0.3, 0.1,
    0.55, 0.05, 0.5, 0.0, 0.3, 0.1, 0.4, 0.0, 0.35, 0.05,
    0.2, 0.0, 0.15, 0.02, 0.1, 0.0, 0.0, 0.0, 0.0, 0.0,
]
COH_V4 = [
    0.995, 0.995, 0.995, 0.995, 0.99, 0.995, 0.995, 0.995, 0.99, 0.995,
    0.995, 0.995, 0.99, 0.995, 0.995, 0.995, 0.995, 0.995, 0.995, 0.995,
    0.995, 0.995, 0.995, 0.995, 0.995, 0.995, 0.995, 0.995, 0.995, 0.995,
    0.995, 0.995, 0.995, 0.995, 0.995, 0.99, 0.995, 0.995, 0.995, 0.995,
    0.995, 0.995, 0.995, 0.995, 0.995, 0.995, 0.995, 0.995, 0.995, 0.995,
    0.995, 0.995, 0.995, 0.995, 0.995, 0.995, 0.995, 0.995, 0.995, 0.995,
    0.995, 0.99, 0.995, 0.99, 0.97, 0.78, 0.98, 0.99, 0.97, 0.76,
    0.95, 0.99, 0.99, 0.99, 0.99, 0.99, 0.99, 0.98, 0.99, 0.97,
    0.96, 0.98, 0.97, 0.45, 0.9, 0.85, 0.93, 0.6, 0.33, 0.8,
    0.69, 0.9, 0.85, 0.88, 0.78, 0.9, 0.95, 0.85, 0.5, 0.16,
    0.8, 0.95, 0.99, 0.16, 0.7, 0.87, 0.6, 0.45, 0.7, 0.27,
    0.57, 0.07, 0.4, 0.15, 0.5, 0.66, 0.0, 0.0, 0.0, 0.0,
]

MAGS = [MAG_H1, MAG_H2, MAG_H3, MAG_H4, MAG_V1, MAG_V2, MAG_V3, MAG_V4]
PHASES = [PH_H1, PH_H2, PH_H3, PH_H4, PH_V1, PH_V2, PH_V3, PH_V4]
COHS = [COH_H1, COH_H2, COH_H3, COH_H4, COH_V1, COH_V2, COH_V3, COH_V4]
for group in (MAGS, PHASES, COHS):
    for arr in group:
        assert len(arr) == len(FREQ), len(arr)

# ---------------- layout helpers ----------------
W, H = 1973, 1525


def px(xp):
    return xp / W


def py(yp):
    return 1 - yp / H


AX_L, AX_R = 153.5, 1760.0
MAG_T, MAG_B = 122.0, 648.0
PH_T, PH_B = 704.6, 1226.8
CO_T, CO_B = 1283.5, 1421.9

FONT = "Liberation Sans, Arial, Helvetica, sans-serif"
GRID = "#3a3a3a"
GDASH = "2px,6px"
TICKFONT = dict(family=FONT, size=35, color="black")
MINUS = "\u2212"
LINE_W = 5.2
FIG_EDGE = 1958  # the original figure content ends here (legend is cut)


def pow_label(e):
    return "10<sup>" + (MINUS if e < 0 else "") + str(abs(e)) + "</sup>"


fig = go.Figure()
panels = [("x", "y", MAGS), ("x2", "y2", PHASES), ("x3", "y3", COHS)]
for xa, ya, arrays in panels:
    for name, color, arr in zip(SERIES_NAMES, SERIES_COLORS, arrays):
        fig.add_trace(go.Scatter(
            x=FREQ, y=arr, mode="lines", name=name,
            line=dict(color=color, width=LINE_W),
            xaxis=xa, yaxis=ya, showlegend=False, hoverinfo="skip",
        ))

x_major = [10.0 ** e for e in range(-2, 3)]
x_major_text = [pow_label(e) for e in range(-2, 3)]
x_minor = [k * 10.0 ** e for e in range(-3, 3) for k in range(2, 10)
           if 1 / 512 <= k * 10.0 ** e <= 512]


def xaxis_dict(anchor, dom_x):
    return dict(
        type="log", range=[math.log10(1 / 512), math.log10(512)], domain=dom_x,
        anchor=anchor, tickmode="array", tickvals=x_major, ticktext=x_major_text,
        ticks="inside", ticklen=14, tickwidth=1.3, tickcolor="black",
        showline=True, linecolor="black", linewidth=1.5, mirror=False,
        showgrid=True, gridcolor=GRID, gridwidth=1, griddash=GDASH, zeroline=False,
        minor=dict(tickmode="array", tickvals=x_minor, ticks="inside", ticklen=7,
                   tickwidth=1.1, tickcolor="black", showgrid=True,
                   gridcolor=GRID, gridwidth=1, griddash=GDASH),
        tickfont=TICKFONT, ticklabelstandoff=12, fixedrange=True, automargin=False,
    )


def yaxis_base(anchor, dom_y):
    return dict(
        domain=dom_y, anchor=anchor, ticks="inside", ticklen=14, tickwidth=1.3,
        tickcolor="black", showline=True, linecolor="black", linewidth=1.5,
        mirror=False, showgrid=True, gridcolor=GRID, gridwidth=1, griddash=GDASH,
        zeroline=False, tickfont=TICKFONT, ticklabelstandoff=3, fixedrange=True,
        automargin=False,
    )


dom_x = [px(AX_L), px(AX_R)]
y1 = yaxis_base("x", [py(MAG_B), py(MAG_T)])
y1.update(type="log", range=[-8, 1], tickmode="array",
          tickvals=[10.0 ** e for e in range(-8, 2)],
          ticktext=[pow_label(e) for e in range(-8, 2)],
          minor=dict(tickmode="array",
                     tickvals=[k * 10.0 ** e for e in range(-8, 1) for k in range(2, 10)],
                     ticks="inside", ticklen=7, tickwidth=1.1, tickcolor="black",
                     showgrid=True, gridcolor=GRID, gridwidth=1, griddash=GDASH))
PH_TICKS = list(range(-180, 181, 45))
y2 = yaxis_base("x2", [py(PH_B), py(PH_T)])
y2.update(range=[-180, 180], tickmode="array", tickvals=PH_TICKS,
          ticktext=[str(v).replace("-", MINUS) for v in PH_TICKS])
CO_TICKS = [0, 0.5, 1]
y3 = yaxis_base("x3", [py(CO_B), py(CO_T)])
y3.update(range=[0, 1], tickmode="array", tickvals=CO_TICKS,
          ticktext=["0", "0.5", "1"])

annotations = []


def text_ann(x, y, text, size, angle=0, xanchor="center", yanchor="middle", **kw):
    d = dict(xref="paper", yref="paper", x=x, y=y, text=text, showarrow=False,
             textangle=angle, xanchor=xanchor, yanchor=yanchor,
             font=dict(family=FONT, size=size, color="black"))
    d.update(kw)
    return d


# legend box geometry (px)
LEG_L, LEG_T, LEG_B = 1592, 4, 348

# title: its end is hidden behind the legend box, as in the original
TITLE_X0 = 309
annotations.append(text_ann(px(TITLE_X0), py(75),
                            "HEPI \u2212 H1 \u2212 BSC3 \u2212 ITMX \u2212 Jan 2nd, 2013 \u2212 ISI Undamped",
                            48, xanchor="left", align="left", width=LEG_L - TITLE_X0,
                            borderpad=0))
annotations.append(text_ann(px(44), py((MAG_T + MAG_B) / 2), "Magnitude (count/count)", 36, -90))
annotations.append(text_ann(px(30), py((PH_T + PH_B) / 2), "Angle(\u00b0)", 36, -90))
annotations.append(text_ann(px(61), py((CO_T + CO_B) / 2), "Coherence", 36, -90))
annotations.append(text_ann(px(956), py(1501), "Frequency (Hz)", 36))
annotations.append(text_ann(px(1774), py(CO_B), "created by Plot_TF_L2L_HEPI on 03\u2212Jan\u22122014", 19, -90,
                            yanchor="bottom"))

shapes = [
    dict(type="rect", xref="paper", yref="paper", layer="above",
         x0=px(LEG_L), x1=px(LEG_L + 420), y0=py(LEG_B), y1=py(LEG_T),
         fillcolor="white", line=dict(color="black", width=2)),
]
TEXT_X = 1703
for i, (name, color) in enumerate(zip(SERIES_NAMES, SERIES_COLORS)):
    yc = 30 + 42 * i
    shapes.append(dict(type="line", xref="paper", yref="paper", layer="above",
                       x0=px(1609), x1=px(1694), y0=py(yc), y1=py(yc),
                       line=dict(color=color, width=5)))
    annotations.append(text_ann(px(TEXT_X), py(yc), name, 32, xanchor="left", align="left",
                                width=FIG_EDGE - TEXT_X, borderpad=0))
# blank strip at the far right (the original figure ends at FIG_EDGE)
shapes.append(dict(type="rect", xref="paper", yref="paper", layer="above",
                   x0=px(FIG_EDGE), x1=1.02, y0=py(LEG_B + 4), y1=1.01,
                   fillcolor="white", line=dict(width=0)))

fig.update_layout(
    width=W, height=H, margin=dict(l=0, r=0, t=0, b=0, pad=0, autoexpand=False),
    paper_bgcolor="white", plot_bgcolor="white", showlegend=False,
    font=dict(family=FONT, color="black"),
    xaxis=xaxis_dict("y", dom_x), xaxis2=xaxis_dict("y2", dom_x), xaxis3=xaxis_dict("y3", dom_x),
    yaxis=y1, yaxis2=y2, yaxis3=y3,
    annotations=annotations, shapes=shapes,
)

fig.write_html("out.html", config={"displayModeBar": False, "staticPlot": True},
               post_script="document.body.style.margin='0px';document.body.style.overflow='hidden';")
